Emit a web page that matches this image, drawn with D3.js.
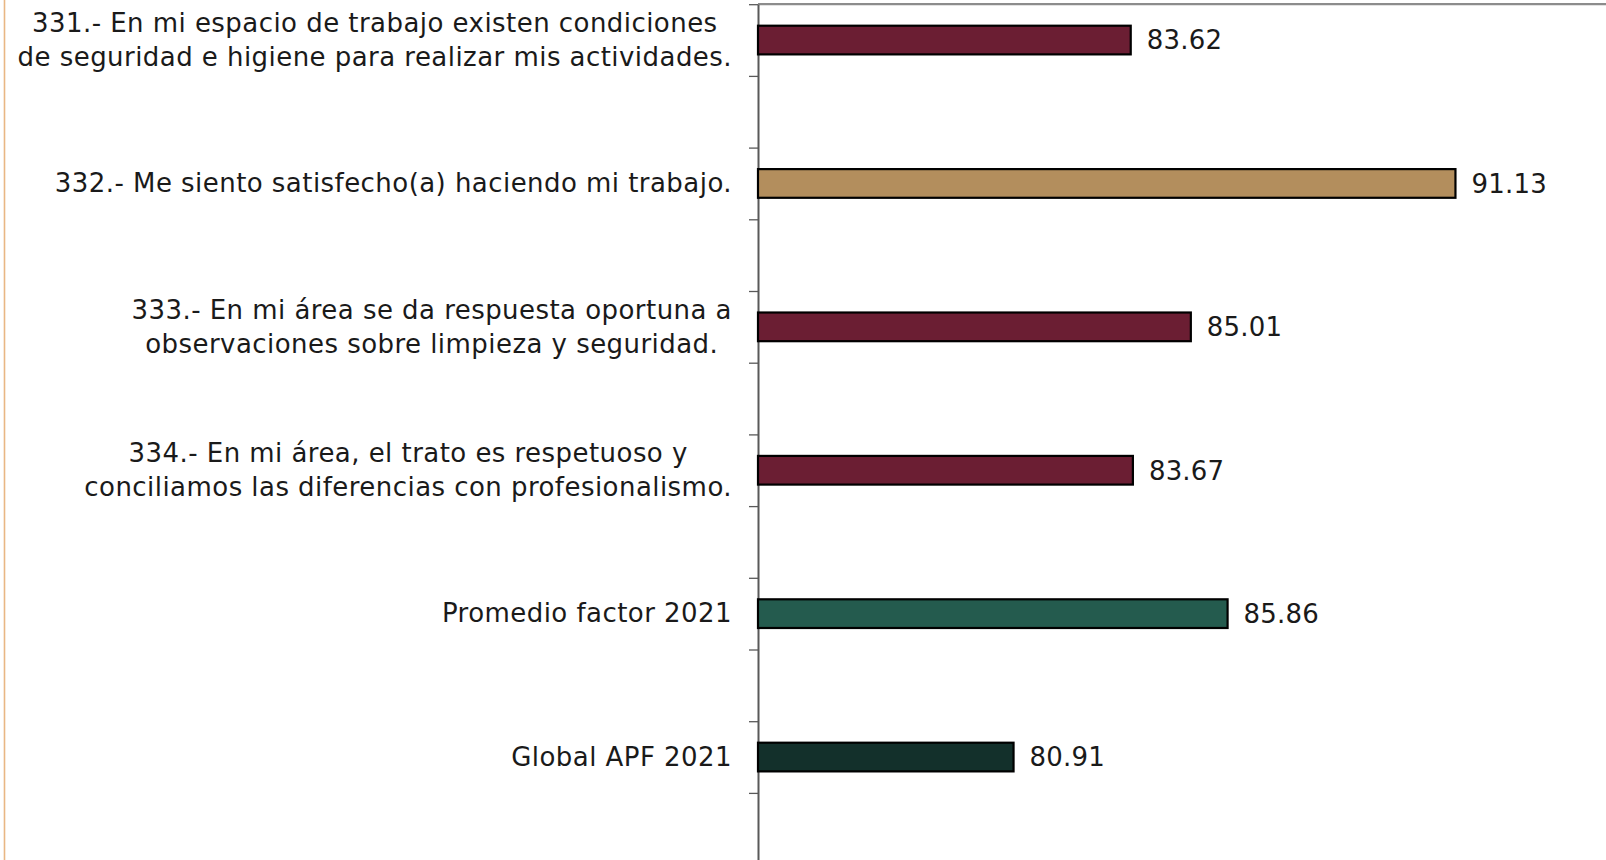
<!DOCTYPE html>
<html>
<head>
<meta charset="utf-8">
<script src="https://cdn.jsdelivr.net/npm/d3@7"></script>
<style>
  html, body { margin: 0; padding: 0; background: #ffffff; }
  svg { display: block; }
  text { font-family: "DejaVu Sans", sans-serif; fill: #1a1a1a; }
</style>
</head>
<body>
<svg id="chart" width="1606" height="860"></svg>
<script>
// ---- data ----
const categories = ["331", "332", "333", "334", "Promedio", "Global"];
const categoryLabels = [
  ["331.- En mi espacio de trabajo existen condiciones", "de seguridad e higiene para realizar mis actividades."],
  ["332.- Me siento satisfecho(a) haciendo mi trabajo."],
  ["333.- En mi área se da respuesta oportuna a", "observaciones sobre limpieza y seguridad."],
  ["334.- En mi área, el trato es respetuoso y", "conciliamos las diferencias con profesionalismo."],
  ["Promedio factor 2021"],
  ["Global APF 2021"]
];
const values = [83.62, 91.13, 85.01, 83.67, 85.86, 80.91];
const slots = ["valor", "vacío"];
const xDomain = [75, 95];

// ---- styles ----
const barColors = ["#6b1e33", "#b38e5d", "#6b1e33", "#6b1e33", "#245b4e", "#13302b"];

const svg = d3.select("#chart");
const W = 1606, H = 860;
const axisX = 758, topY = 4.2;
const slotH = 71.7;
const plotBottom = topY + slotH * categories.length * slots.length;

const x = d3.scaleLinear().domain(xDomain).range([axisX, axisX + 20 * 43.24]);
const y0 = d3.scaleBand().domain(categories).range([topY, plotBottom]).padding(0);
const y1 = d3.scaleBand().domain(slots).range([0, y0.bandwidth()]).padding(0.6).paddingOuter(0.3);
const yIdx = d3.scaleLinear().domain([0, categories.length * slots.length]).range([topY, plotBottom]);
const color = d3.scaleOrdinal().domain(categories).range(barColors);

// left decorative border
svg.append("line")
  .attr("x1", 4.5).attr("x2", 4.5).attr("y1", 0).attr("y2", H)
  .attr("stroke", "#e9b784").attr("stroke-width", 1.6);

// top plot border
svg.append("line")
  .attr("x1", axisX).attr("x2", W).attr("y1", topY).attr("y2", topY)
  .attr("stroke", "#8c8c8c").attr("stroke-width", 2.2);

// axis
const axis = d3.axisLeft(yIdx).ticks(categories.length * slots.length).tickFormat("").tickSizeInner(9).tickSizeOuter(0);
const gAxis = svg.append("g").attr("transform", `translate(${axisX},0)`).call(axis);
gAxis.select(".domain").attr("stroke", "#595959").attr("stroke-width", 2);
gAxis.selectAll(".tick line").attr("stroke", "#595959").attr("stroke-width", 1.3);

// bars
const rows = categories.map((c, i) => ({ cat: c, value: values[i], lines: categoryLabels[i] }));
svg.append("g").selectAll("rect").data(rows).join("rect")
  .attr("x", x(xDomain[0]))
  .attr("y", d => y0(d.cat) + y1("valor"))
  .attr("width", d => x(d.value) - x(xDomain[0]))
  .attr("height", y1.bandwidth())
  .attr("fill", d => color(d.cat))
  .attr("stroke", "#000").attr("stroke-width", 2.2);

// value labels
svg.append("g").selectAll("text").data(rows).join("text")
  .attr("x", d => x(d.value) + 16)
  .attr("y", d => y0(d.cat) + y1("valor") + y1.bandwidth() / 2)
  .attr("dy", "0.36em")
  .attr("font-size", 26)
  .attr("letter-spacing", 0.2)
  .text(d => d.value.toFixed(2));

// category labels
const labelRight = axisX - 26;
const lineGap = 34;
rows.forEach(d => {
  const cy = y0(d.cat) + y1("valor") + y1.bandwidth() / 2;
  const g = svg.append("g");
  const n = d.lines.length;
  const texts = d.lines.map((ln, k) => g.append("text")
    .attr("y", cy + (k - (n - 1) / 2) * lineGap)
    .attr("dy", "0.34em")
    .attr("font-size", 26)
    .attr("letter-spacing", 0.45)
    .attr("text-anchor", "middle")
    .text(ln));
  const maxW = d3.max(texts, t => t.node().getComputedTextLength());
  texts.forEach(t => t.attr("x", labelRight - maxW / 2));
});
</script>
</body>
</html>
